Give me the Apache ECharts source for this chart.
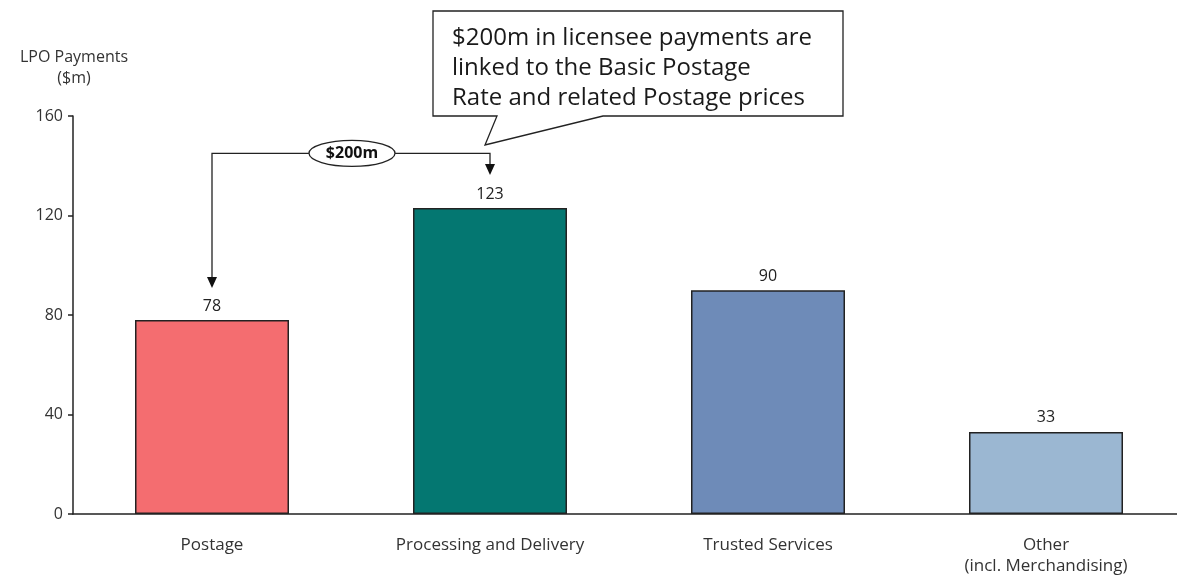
<!DOCTYPE html>
<html>
<head>
<meta charset="utf-8">
<script src="https://cdn.jsdelivr.net/npm/echarts@6/dist/echarts.min.js"></script>
<style>
  html, body { margin: 0; padding: 0; background: #fff; }
  #main { width: 1177px; height: 575px; }
</style>
</head>
<body>
<div id="main"></div>
<script>
var categories = ['Postage', 'Processing and Delivery', 'Trusted Services', 'Other\n(incl. Merchandising)'];
var payments = [78, 123, 90, 33];
var barColors = ['#F46D70', '#047771', '#6E8BB8', '#9BB7D2'];
var yTicks = [0, 40, 80, 120, 160];
var linkedTotal = '$200m';
var calloutLines = [
  '$200m in licensee payments are',
  'linked to the Basic Postage',
  'Rate and related Postage prices'
];

var font = '"Open Sans", "Noto Sans", sans-serif';
var chart = echarts.init(document.getElementById('main'));

var option = {
  backgroundColor: '#fff',
  animation: false,
  textStyle: { fontFamily: font },
  grid: { left: 73, top: 116, width: 1112, height: 398, outerBoundsMode: 'none', containLabel: false },
  xAxis: {
    type: 'category',
    data: categories,
    axisLine: { lineStyle: { color: '#222', width: 1.5 } },
    axisTick: { show: false },
    axisLabel: { color: '#333', fontSize: 17, margin: 21, lineHeight: 21, fontFamily: font }
  },
  yAxis: {
    type: 'value',
    min: yTicks[0],
    max: yTicks[yTicks.length - 1],
    interval: 40,
    splitLine: { show: false },
    axisLine: { show: true, lineStyle: { color: '#222', width: 1.5 } },
    axisTick: { show: true, length: 5, lineStyle: { color: '#222', width: 1.5 } },
    axisLabel: { color: '#333', fontSize: 16, margin: 10, fontFamily: font }
  },
  series: [{
    type: 'bar',
    barWidth: 154,
    data: payments.map(function (v, i) {
      return { value: v, itemStyle: { color: barColors[i] } };
    }),
    itemStyle: { borderColor: '#222', borderWidth: 1.5 },
    label: {
      show: true,
      position: 'top',
      distance: 6,
      color: '#222',
      fontSize: 16,
      fontFamily: font
    }
  }]
};

chart.setOption(option);

// annotations placed from the axes
var p0 = chart.convertToPixel({ xAxisIndex: 0, yAxisIndex: 0 }, [0, payments[0]]);
var p1 = chart.convertToPixel({ xAxisIndex: 0, yAxisIndex: 0 }, [1, payments[1]]);
var bracketY = chart.convertToPixel({ yAxisIndex: 0 }, 145);
var tip0 = p0[1] - 32, tip1 = p1[1] - 33;
var midX = (p0[0] + p1[0]) / 2 + 1;

chart.setOption({
  graphic: [
    {
      type: 'text', x: 74, y: 68,
      style: { text: 'LPO Payments\n($m)', fill: '#333', font: '16px ' + font, align: 'center', verticalAlign: 'middle', lineHeight: 21 }
    },
    {
      type: 'polyline',
      shape: { points: [[p0[0], tip0 - 10], [p0[0], bracketY], [p1[0], bracketY], [p1[0], tip1 - 10]] },
      style: { stroke: '#222', lineWidth: 1.3, fill: null }
    },
    {
      type: 'polygon',
      shape: { points: [[p0[0] - 5, tip0 - 11], [p0[0] + 5, tip0 - 11], [p0[0], tip0]] },
      style: { fill: '#111' }
    },
    {
      type: 'polygon',
      shape: { points: [[p1[0] - 5, tip1 - 11], [p1[0] + 5, tip1 - 11], [p1[0], tip1]] },
      style: { fill: '#111' }
    },
    {
      type: 'ellipse',
      shape: { cx: midX, cy: bracketY, rx: 43, ry: 13 },
      style: { fill: '#fff', stroke: '#222', lineWidth: 1.3 }
    },
    {
      type: 'text', x: midX, y: bracketY,
      style: {
        text: linkedTotal, fill: '#111', align: 'center', verticalAlign: 'middle',
        font: 'bold 16px ' + font
      }
    },
    {
      type: 'polygon',
      shape: { points: [[433, 11], [843, 11], [843, 116], [603, 116], [485, 145], [497, 116], [433, 116]] },
      style: { fill: '#fff', stroke: '#222', lineWidth: 1.3 }
    },
    {
      type: 'text', left: 452, top: 23,
      style: {
        text: calloutLines.join('\n'), fill: '#1a1a1a',
        font: '24px ' + font, lineHeight: 30
      }
    }
  ]
});
</script>
</body>
</html>
